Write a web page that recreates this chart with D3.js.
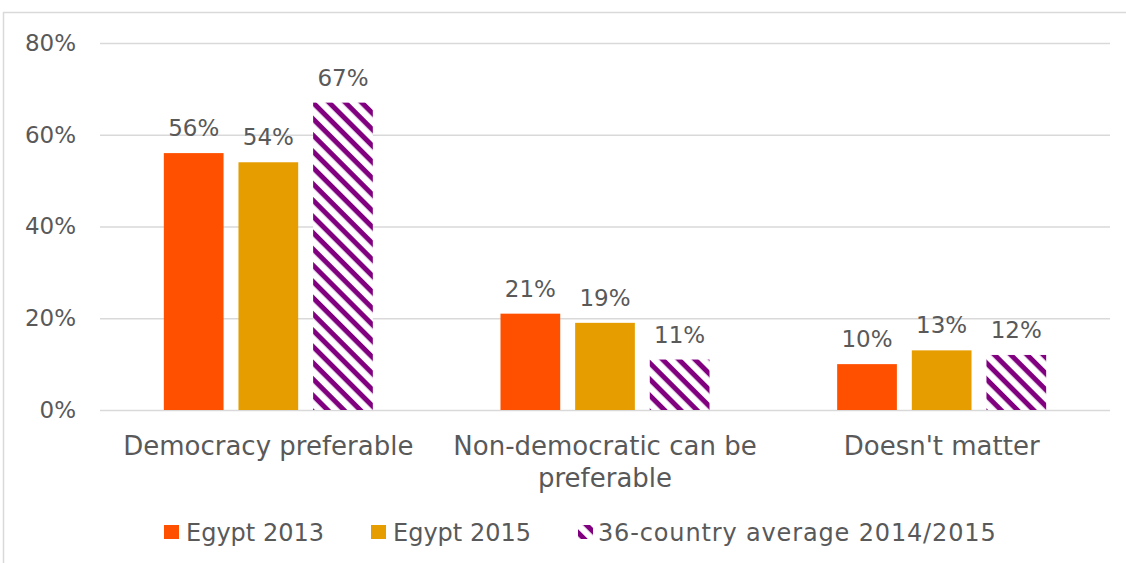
<!DOCTYPE html>
<html>
<head>
<meta charset="utf-8">
<script src="https://cdn.jsdelivr.net/npm/d3@7/dist/d3.min.js"></script>
<style>
  html, body { margin: 0; padding: 0; background: #fff; }
  svg { display: block; }
  text { font-family: "Century Gothic", "DejaVu Sans", sans-serif; fill: #595959; }
</style>
</head>
<body>
<svg id="chart" width="1126" height="563"></svg>
<script>
// Preferences about democracy
const categories = ["Democracy preferable", "Non-democratic can be preferable", "Doesn't matter"];
const categoryLines = [["Democracy preferable"], ["Non-democratic can be", "preferable"], ["Doesn't matter"]];
const seriesNames = ["Egypt 2013", "Egypt 2015", "36-country average 2014/2015"];
const egypt2013 = [56, 21, 10];
const egypt2015 = [54, 19, 13];
const countryAverage = [67, 11, 12];
const yTicks = [0, 20, 40, 60, 80];

const seriesValues = [egypt2013, egypt2015, countryAverage];
const colors = ["#FF5000", "#E69D00", "url(#stripes)"];
const fontStack = '"Century Gothic", "DejaVu Sans", sans-serif';

const svg = d3.select("#chart");
const W = 1126, H = 563;

// frame lines of the chart area
svg.append("line").attr("x1", 3).attr("x2", W).attr("y1", 12.5).attr("y2", 12.5)
  .attr("stroke", "#d9d9d9").attr("stroke-width", 1.5);
svg.append("line").attr("x1", 3.5).attr("x2", 3.5).attr("y1", 12).attr("y2", H)
  .attr("stroke", "#d9d9d9").attr("stroke-width", 1.5);

// diagonal stripe fill
const defs = svg.append("defs");
const pat = defs.append("pattern")
  .attr("id", "stripes")
  .attr("patternUnits", "userSpaceOnUse")
  .attr("width", 11.5).attr("height", 11.5)
  .attr("patternTransform", "rotate(45)");
pat.append("rect").attr("width", 11.5).attr("height", 11.5).attr("fill", "#fff");
pat.append("rect").attr("width", 11.5).attr("height", 5).attr("fill", "#800080");

const plotLeft = 100, plotRight = 1110, plotTop = 43, plotBottom = 410;

const x0 = d3.scaleBand().domain(categories).range([plotLeft, plotRight]).paddingInner(0).paddingOuter(0);
const groupInner = 209; // span covered by the three bars
const x1 = d3.scaleBand().domain(seriesNames)
  .range([(x0.bandwidth() - groupInner) / 2, (x0.bandwidth() + groupInner) / 2])
  .paddingInner(0.2);

const y = d3.scaleLinear().domain([0, 80]).range([plotBottom, plotTop]);

// gridlines and tick labels
const yAxis = d3.axisLeft(y).tickValues(yTicks).tickFormat(d => d + "%")
  .tickSize(-(plotRight - plotLeft)).tickPadding(24);
const gAxis = svg.append("g").attr("transform", `translate(${plotLeft},0)`).call(yAxis);
gAxis.select(".domain").remove();
gAxis.selectAll(".tick line").attr("stroke", "#d9d9d9").attr("stroke-width", 1.5);
gAxis.selectAll(".tick text").attr("font-size", 23).attr("fill", "#595959")
  .style("font-family", fontStack);

// bars with value labels
const groups = svg.append("g").selectAll("g")
  .data(categories)
  .join("g")
  .attr("transform", d => `translate(${x0(d)},0)`);

groups.each(function(cat, ci) {
  const g = d3.select(this);
  seriesNames.forEach((s, si) => {
    const v = seriesValues[si][ci];
    g.append("rect")
      .attr("x", x1(s))
      .attr("y", y(v))
      .attr("width", x1.bandwidth())
      .attr("height", y(0) - y(v))
      .attr("fill", colors[si]);
    g.append("text")
      .attr("x", x1(s) + x1.bandwidth() / 2)
      .attr("y", y(v) - 17)
      .attr("text-anchor", "middle")
      .attr("font-size", 23)
      .text(v + "%");
  });
});

// category labels
categories.forEach((c, ci) => {
  const cx = x0(c) + x0.bandwidth() / 2;
  const t = svg.append("text")
    .attr("x", cx)
    .attr("y", 455)
    .attr("text-anchor", "middle")
    .attr("font-size", 26);
  categoryLines[ci].forEach((line, li) => {
    t.append("tspan").attr("x", cx).attr("dy", li === 0 ? 0 : 32).text(line);
  });
});

// legend
const legendX = [164, 371, 578];
const legend = svg.append("g");
seriesNames.forEach((s, si) => {
  legend.append("rect")
    .attr("x", legendX[si]).attr("y", 525)
    .attr("width", 15).attr("height", 14)
    .attr("fill", colors[si]);
  legend.append("text")
    .attr("x", legendX[si] + (si === 2 ? 20 : 22)).attr("y", 541)
    .attr("font-size", 24)
    .attr("letter-spacing", si === 2 ? 0.85 : 0)
    .text(s);
});
</script>
</body>
</html>
